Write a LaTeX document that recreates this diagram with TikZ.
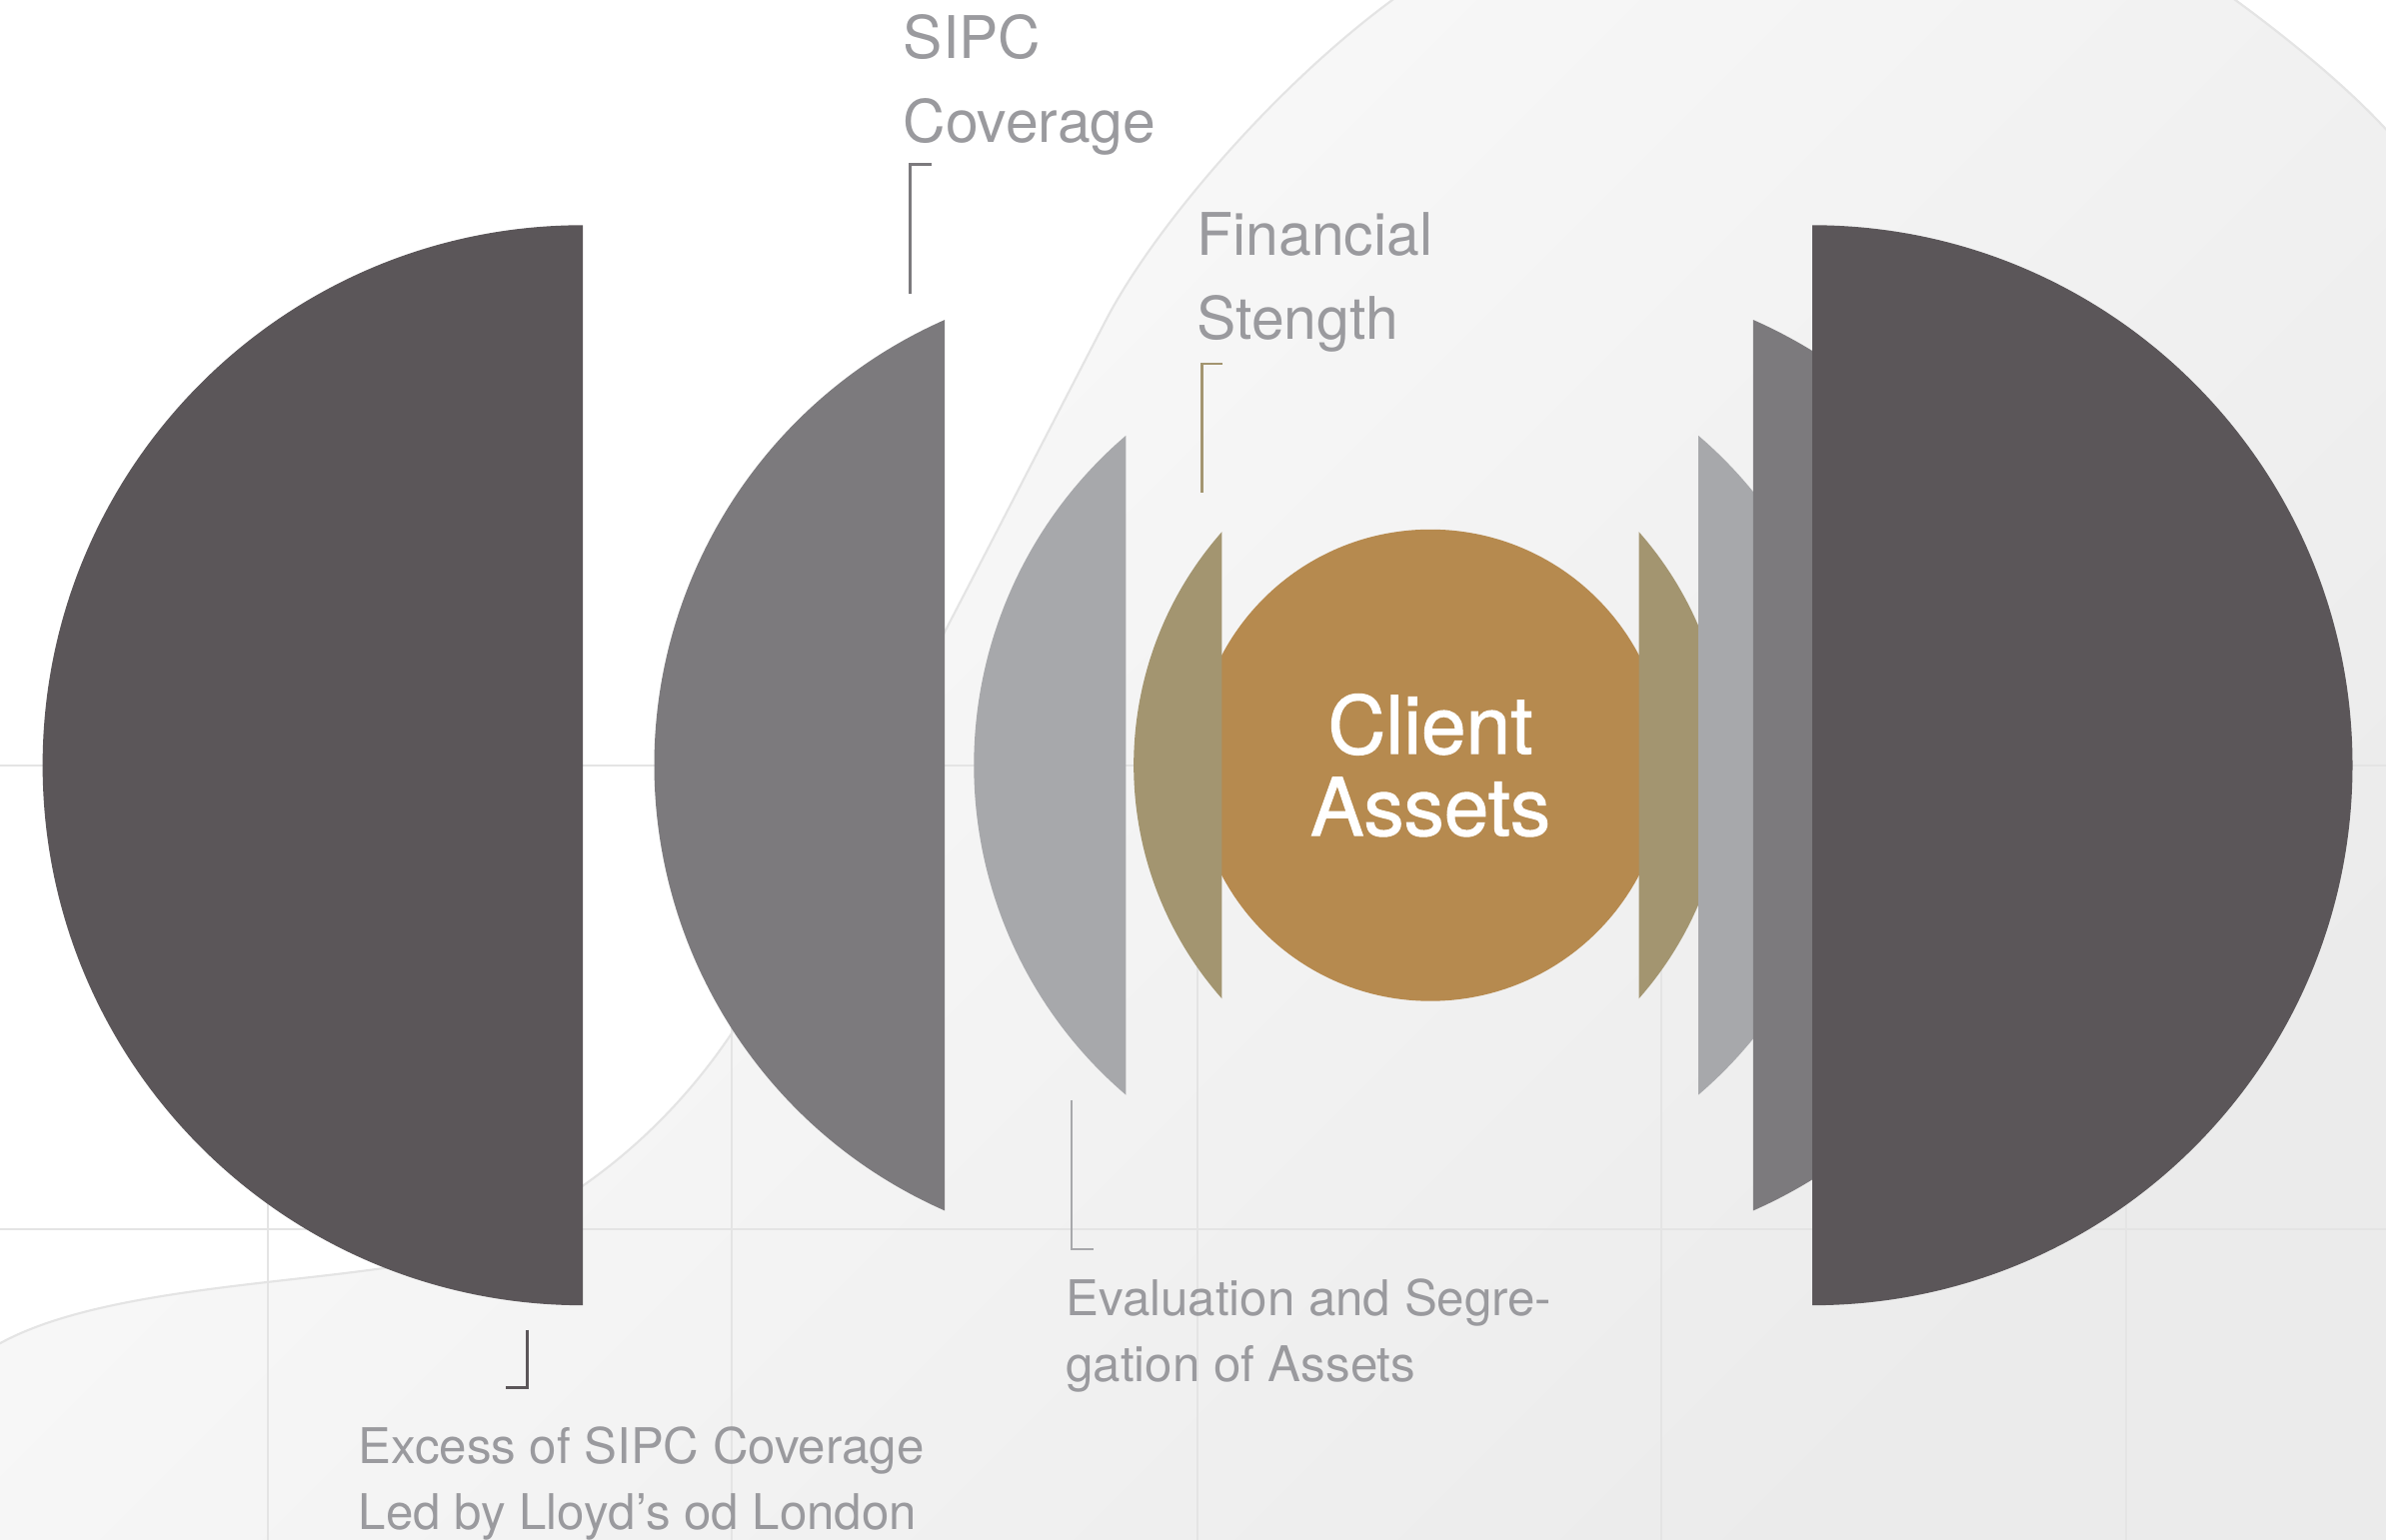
\documentclass[tikz,border=0pt]{standalone}
\usepackage{fontspec}
\setmainfont{TeX Gyre Heros}
\newfontfamily\medfont[FakeBold=1.2]{TeX Gyre Heros}
\definecolor{darkc}{HTML}{5B5659}
\definecolor{midc}{HTML}{7C7A7D}
\definecolor{lightc}{HTML}{A7A8AB}
\definecolor{tanc}{HTML}{A39570}
\definecolor{corec}{HTML}{B68A4F}
\definecolor{lblc}{HTML}{9A9A9E}
\definecolor{gridc}{HTML}{E4E4E4}
\definecolor{blobtop}{HTML}{FCFCFC}
\definecolor{blobbot}{HTML}{EBEBEB}
\tikzset{every picture/.style={x=0.1mm,y=-0.1mm},
  lbl/.style={text=lblc,align=left,anchor=north west,inner sep=0pt},
  biglbl/.style={lbl,font=\fontsize{11}{15.6}\selectfont},
  smalllbl/.style={lbl,font=\fontsize{9.2}{12.4}\selectfont},
  gridline/.style={draw=gridc,line width=0.4pt},
  blobline/.style={draw=gridc,line width=0.4pt},
  brk/.style={line width=0.45pt},
  core/.style={circle,fill=corec,minimum size=31mm,inner sep=0pt,align=center,text=white,
    font=\medfont\fontsize{15}{15.3}\selectfont}}
\def\blobpath{(-40,906) -- (0,883) .. controls (60,850) and (170,845) .. (249,834)
        .. controls (330,823) and (420,770) .. (481,679)
        .. controls (521,619) and (581,492) .. (621,415)
        .. controls (660,340) and (700,262) .. (727,210)
        .. controls (760,147) and (840,55) .. (915,0)
        .. controls (1010,-70) and (1100,-103) .. (1192,-103)
        .. controls (1284,-103) and (1374,-70) .. (1469,0)
        .. controls (1510,30) and (1545,60) .. (1568,85)
        .. controls (1600,120) and (1620,150) .. (1640,190)
        -- (1640,1100) -- (-40,1100) -- cycle}

\begin{document}
\begin{tikzpicture}
      \useasboundingbox (0,0) rectangle (1568,1012);
      \fill[white] (0,0) rectangle (1568,1012);
      \begin{scope}
      \clip (0,0) rectangle (1568,1012);
      \begin{scope}
      \clip \blobpath;
      \shade[top color=blobtop,bottom color=blobbot,shading angle=45] (0,0) rectangle (1568,1012);
      \end{scope}
      \draw[blobline] \blobpath;
      \end{scope}

      \foreach \gy in {503,808} \draw[gridline] (0,\gy) -- (1568,\gy);
      \foreach \gx in {176,481,787,1092,1397} \draw[gridline] (\gx,503) -- (\gx,1012);

      \node[core] (assets) at (940,503) {Client\\Assets};

      \fill[darkc] (383,503) ++(90:355) arc[start angle=90,end angle=270,radius=355] -- cycle;
      \fill[midc] (750,503) ++(113.8:320) arc[start angle=113.8,end angle=246.2,radius=320] -- cycle;
      \fill[lightc] (925,503) ++(130.5:285) arc[start angle=130.5,end angle=229.5,radius=285] -- cycle;
      \fill[tanc] (977,503) ++(138.6:232) arc[start angle=138.6,end angle=221.4,radius=232] -- cycle;

      \fill[tanc] (903,503) ++(-41.4:232) arc[start angle=-41.4,end angle=41.4,radius=232] -- cycle;
      \fill[lightc] (931,503) ++(-49.5:285) arc[start angle=-49.5,end angle=49.5,radius=285] -- cycle;
      \fill[midc] (1023,503) ++(-66.2:320) arc[start angle=-66.2,end angle=66.2,radius=320] -- cycle;
      \fill[darkc] (1191,503) ++(-90:355) arc[start angle=-90,end angle=90,radius=355] -- cycle;

      \node[biglbl] (sipc) at (593,9) {SIPC\\Coverage};
      \node[biglbl] (fin) at (786,139) {Financial\\Stength};
      \node[smalllbl] (seg) at (700,840) {Evaluation and Segre-\\gation of Assets};
      \node[smalllbl] (xs) at (235,937) {Excess of SIPC Coverage\\Led by Lloyd’s od London};

      \coordinate (sipc1) at (612,108);
      \coordinate (sipc2) at (598,108);
      \coordinate (sipc3) at (598,193);
      \coordinate (fin1) at (803.5,239);
      \coordinate (fin2) at (790,239);
      \coordinate (fin3) at (790,324);
      \coordinate (seg1) at (704,723);
      \coordinate (seg2) at (704,821);
      \coordinate (seg3) at (718.5,821);
      \coordinate (xs1) at (346.5,874);
      \coordinate (xs2) at (346.5,912);
      \coordinate (xs3) at (332.5,912);

      \draw[brk,midc](sipc1)--(sipc2)--(sipc3);
      \draw[brk,tanc](fin1)--(fin2)--(fin3);
      \draw[brk,lightc](seg1)--(seg2)--(seg3);
      \draw[brk,darkc,line width=0.6pt](xs1)--(xs2)--(xs3);
    \end{tikzpicture}
\end{document}
